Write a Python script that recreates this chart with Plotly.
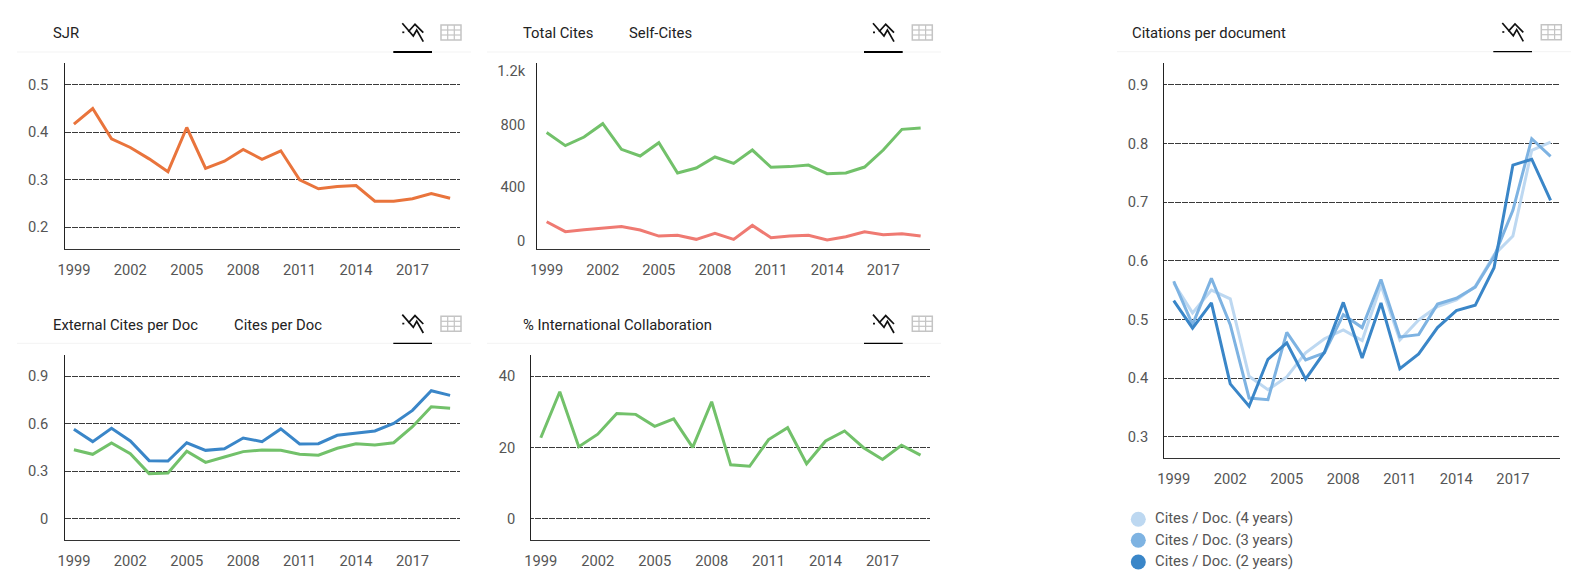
import plotly.graph_objects as go

W, H = 1572, 583

years = list(range(1999, 2020))
x_ticks = [1999, 2002, 2005, 2008, 2011, 2014, 2017]

sjr = [0.417, 0.45, 0.386, 0.368, 0.344, 0.317, 0.41, 0.324, 0.339, 0.364, 0.343,
       0.361, 0.30, 0.281, 0.286, 0.288, 0.255, 0.255, 0.26, 0.271, 0.261]
total_cites = [763, 671, 732, 826, 645, 598, 692, 478, 513, 591, 546,
               640, 518, 523, 534, 473, 478, 520, 640, 786, 795]
self_cites = [134, 64, 78, 87, 101, 76, 33, 38, 10, 52, 10,
              108, 21, 33, 38, 5, 28, 64, 43, 50, 33]
cites_per_doc = [0.5635, 0.486, 0.57, 0.49, 0.366, 0.364, 0.479, 0.431, 0.4415, 0.509, 0.486,
                 0.566, 0.471, 0.473, 0.526, 0.538, 0.553, 0.601, 0.683, 0.807, 0.778]
external_cites = [0.435, 0.406, 0.477, 0.41, 0.284, 0.288, 0.425, 0.355, 0.389, 0.423, 0.433,
                  0.431, 0.406, 0.40, 0.444, 0.473, 0.465, 0.479, 0.58, 0.706, 0.696]
intl_collab = [22.7, 35.6, 20.2, 23.7, 29.5, 29.25, 25.9, 28.0, 20, 32.8, 15.1,
               14.7, 22.2, 25.5, 15.4, 21.8, 24.6, 19.9, 16.6, 20.6, 17.8]
cpd_2y = [0.532, 0.485, 0.528, 0.39, 0.352, 0.432, 0.46, 0.398, 0.444, 0.529, 0.434,
          0.528, 0.416, 0.441, 0.486, 0.515, 0.524, 0.588, 0.763, 0.773, 0.703]
cpd_3y = [0.565, 0.491, 0.57, 0.491, 0.366, 0.363, 0.478, 0.431, 0.443, 0.508, 0.486,
          0.568, 0.47, 0.474, 0.526, 0.536, 0.555, 0.607, 0.686, 0.808, 0.778]
cpd_4y = [0.562, 0.511, 0.55, 0.535, 0.403, 0.38, 0.402, 0.443, 0.467, 0.482, 0.464,
          0.558, 0.465, 0.499, 0.522, 0.533, 0.556, 0.61, 0.642, 0.788, 0.802]

ORANGE, GREEN, RED = "#e9743c", "#72c16a", "#ef7a72"
BLUE, BLUE_MID, BLUE_LIGHT = "#3a86c8", "#7eb3e2", "#bdd8f1"
FONT = "Roboto"
TICK = "#555555"
TITLE = "#222222"
FS_TICK = 14.7
FS_TEXT = 14.8


def px(v):
    return v / W


def py(v):
    return 1 - v / H


panels = [
    dict(l=64.5, r=459.5, t=63, b=248.7, yrange=[0.155, 0.5457], standoff=12,
         yticks=[0.2, 0.3, 0.4, 0.5], ytext=["0.2", "0.3", "0.4", "0.5"], grid=True,
         series=[(sjr, ORANGE, "SJR")],
         head=(17, 471, 52), icon=(393.3, 432), grid_icon=441, under=2.2,
         titles=[(51.5, 33, "SJR")]),
    dict(l=537.3, r=930, t=63, b=248.7, yrange=[-56, 1254], standoff=8,
         yticks=[0, 381, 819, 1200], ytext=["0", "400", "800", "1.2k"], grid=False,
         series=[(total_cites, GREEN, "Total Cites"), (self_cites, RED, "Self-Cites")],
         head=(487, 941, 52), icon=(864, 902.7), grid_icon=912.3, under=2.2,
         titles=[(521.7, 33, "Total Cites"), (627.5, 33, "Self-Cites")]),
    dict(l=64.5, r=459.5, t=355, b=540, yrange=[-0.1346, 1.0325], standoff=12,
         yticks=[0, 0.3, 0.6, 0.9], ytext=["0", "0.3", "0.6", "0.9"], grid=True,
         series=[(cites_per_doc, BLUE, "Cites per Doc"), (external_cites, GREEN, "External Cites per Doc")],
         head=(17, 471, 343.3), icon=(393.3, 432), grid_icon=441, under=1.2,
         titles=[(51.5, 325, "External Cites per Doc"), (232.5, 325, "Cites per Doc")]),
    dict(l=531.3, r=930, t=355, b=540, yrange=[-5.98, 45.9], standoff=12,
         yticks=[0, 20, 40], ytext=["0", "20", "40"], grid=True,
         series=[(intl_collab, GREEN, "% International Collaboration")],
         head=(487, 941, 343.3), icon=(864, 902.7), grid_icon=912.3, under=1.2,
         titles=[(521.7, 325, "% International Collaboration")]),
    dict(l=1164.3, r=1560, t=63.3, b=458.3, yrange=[0.2632, 0.9365], standoff=12,
         yticks=[0.3, 0.4, 0.5, 0.6, 0.7, 0.8, 0.9],
         ytext=["0.3", "0.4", "0.5", "0.6", "0.7", "0.8", "0.9"], grid=True,
         series=[(cpd_4y, BLUE_LIGHT, "Cites / Doc. (4 years)"),
                 (cpd_3y, BLUE_MID, "Cites / Doc. (3 years)"),
                 (cpd_2y, BLUE, "Cites / Doc. (2 years)")],
         head=(1117, 1571, 51.7), icon=(1493.3, 1532), grid_icon=1541.3, under=1.2,
         titles=[(1131.2, 33, "Citations per document")]),
]

ICON_A = [(10.3, -28.7), (21.3, -16), (24.7, -22), (31.3, -10.3)]
ICON_B = [(16.3, -20.3), (23, -27.7), (31.3, -19.3)]
ICON_C = [(10.3, -19.7), (12.3, -19.7)]

fig = go.Figure()
shapes, annotations = [], []


def paper_line(x0, y0, x1, y1, color, width):
    return dict(type="line", xref="paper", yref="paper", x0=px(x0), x1=px(x1), y0=py(y0), y1=py(y1),
                line=dict(color=color, width=width))


for i, p in enumerate(panels, start=1):
    sfx = "" if i == 1 else str(i)
    fig.update_layout({
        f"xaxis{sfx}": dict(
            domain=[px(p["l"]), px(p["r"])], range=[1998.5, 2019.5], anchor=f"y{sfx}",
            automargin=False,
            tickmode="array", tickvals=x_ticks, ticktext=[str(v) for v in x_ticks],
            showgrid=False, zeroline=False, showline=True, linecolor="#333333", linewidth=1.4,
            ticks="outside", ticklen=7, tickcolor="rgba(0,0,0,0)",
            tickfont=dict(family=FONT, size=FS_TICK, color=TICK),
        ),
        f"yaxis{sfx}": dict(
            domain=[py(p["b"]), py(p["t"])], range=p["yrange"], anchor=f"x{sfx}",
            automargin=False,
            tickmode="array", tickvals=p["yticks"], ticktext=p["ytext"],
            ticklabelstandoff=p["standoff"],
            showgrid=p["grid"], gridcolor="#3a3a3a", gridwidth=1.1, griddash="3px,0.5px",
            zeroline=False, showline=True, linecolor="#222222", linewidth=1.4,
            ticks="", ticklen=0,
            tickfont=dict(family=FONT, size=FS_TICK, color=TICK),
        ),
    })
    for vals, color, name in p["series"]:
        fig.add_trace(go.Scatter(
            x=years, y=vals, mode="lines", name=name, showlegend=False,
            line=dict(color=color, width=3, shape="linear"),
            xaxis=f"x{sfx}", yaxis=f"y{sfx}",
        ))

    # header rule, titles
    l, r, y = p["head"]
    shapes.append(paper_line(l, y, r, y, "#f3f3f3", 1))
    for tx, ty, text in p["titles"]:
        annotations.append(dict(xref="paper", yref="paper", x=px(tx), y=py(ty), text=text, showarrow=False,
                                xanchor="left", yanchor="middle", borderpad=0,
                                font=dict(family=FONT, size=FS_TEXT, color=TITLE)))

    # chart icon with its underline
    a, b = p["icon"]
    shapes.append(paper_line(a, y, b, y, "#000000", p["under"]))
    for stroke in (ICON_A, ICON_B, ICON_C):
        path = "M " + " L ".join(f"{px(a - 1.3 + u)} {py(y + v)}" for u, v in stroke)
        shapes.append(dict(type="path", xref="paper", yref="paper", path=path,
                           line=dict(color="#111111", width=1.7)))

    # table icon
    gx, gy = p["grid_icon"], y - 27
    shapes.append(dict(type="rect", xref="paper", yref="paper", x0=px(gx), x1=px(gx + 20), y0=py(gy), y1=py(gy + 15),
                       line=dict(color="#c4c4c4", width=1.5)))
    for dy in (5, 10):
        shapes.append(paper_line(gx, gy + dy, gx + 20, gy + dy, "#c4c4c4", 1.2))
    for dx in (6.7, 13.3):
        shapes.append(paper_line(gx + dx, gy, gx + dx, gy + 15, "#c4c4c4", 1.2))

# legend of the right-hand chart
legend_rows = [(519.3, 518.3, BLUE_LIGHT, "Cites / Doc. (4 years)"),
               (540.3, 540, BLUE_MID, "Cites / Doc. (3 years)"),
               (562, 561, BLUE, "Cites / Doc. (2 years)")]
for cy, ty, color, text in legend_rows:
    shapes.append(dict(type="circle", xref="paper", yref="paper", x0=px(1130.8), x1=px(1145.8),
                       y0=py(cy + 7.5), y1=py(cy - 7.5), fillcolor=color, line=dict(width=0)))
    annotations.append(dict(xref="paper", yref="paper", x=px(1153.5), y=py(ty), text=text, showarrow=False,
                            xanchor="left", yanchor="middle", borderpad=0,
                            font=dict(family=FONT, size=FS_TEXT, color=TICK)))

fig.update_layout(
    width=W, height=H, margin=dict(l=0, r=0, t=0, b=0), autosize=False,
    paper_bgcolor="#ffffff", plot_bgcolor="#ffffff", showlegend=False,
    shapes=shapes, annotations=annotations,
)

fig.write_html(
    "out.html",
    config={"displayModeBar": False, "responsive": False},
    post_script="document.body.style.margin='0';document.body.style.overflow='hidden';",
)
